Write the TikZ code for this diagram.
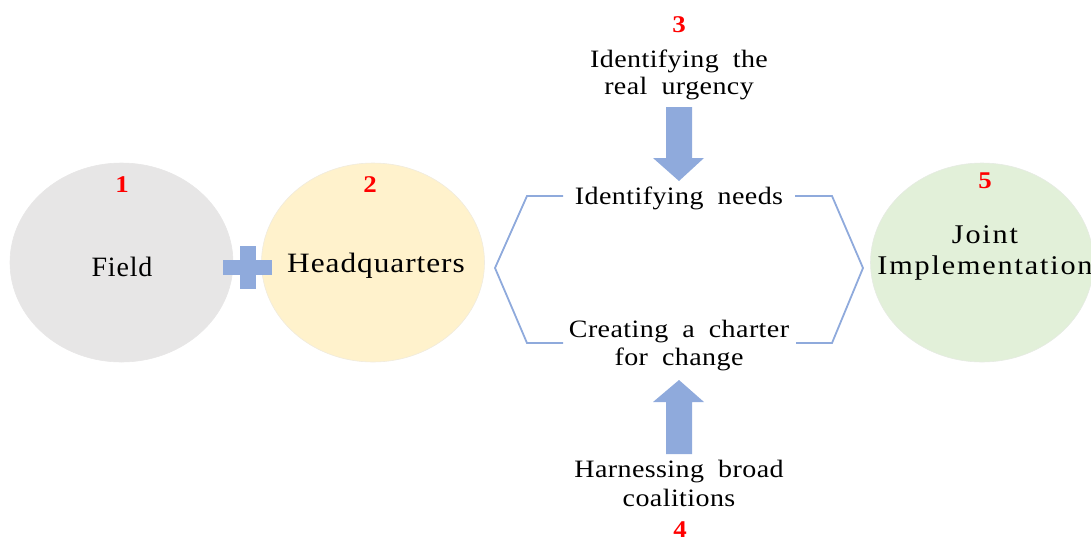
\documentclass[tikz,border=0pt]{standalone}
\usepackage{fontspec}
\usepackage{graphicx}
\setmainfont{Liberation Serif}
\newfontfamily\wide[LetterSpace=1.5,WordSpace=1.9]{Liberation Serif}
\newfontfamily\wideb[LetterSpace=3]{Liberation Serif}
\newfontfamily\widec[LetterSpace=6]{Liberation Serif}
\newcommand\sx[1]{\scalebox{1.12}[1]{#1}}
\usetikzlibrary{shapes.geometric}
\definecolor{grayfill}{HTML}{E7E6E6}
\definecolor{yelfill}{HTML}{FFF2CC}
\definecolor{grnfill}{HTML}{E2F0D9}
\definecolor{blu}{HTML}{8FAADC}
\tikzset{
  circ/.style={ellipse, draw=#1!85!black!40, line width=0.6pt, fill=#1, minimum width=223pt, minimum height=199pt, inner sep=0},
  num/.style={text=red, font=\fontsize{24}{24}\selectfont\bfseries, anchor=base, inner sep=0},
  lbl/.style={font=\wide\fontsize{25}{25}\selectfont, anchor=base, inner sep=0},
  big/.style={font=\wideb\fontsize{28}{28}\selectfont, anchor=base, inner sep=0},
  bigc/.style={font=\widec\fontsize{27}{27}\selectfont, anchor=base, inner sep=0},
  brk/.style={draw=blu, line width=1.8pt},
}
\begin{document}
\begin{tikzpicture}[x=1pt,y=-1pt]
\useasboundingbox (0,0) rectangle (1091,539);
\clip (0,0) rectangle (1091,539);
\node[circ=grayfill] (c1) at (121.5,262.5) {};
\node[circ=yelfill] (c2) at (373,262.5) {};
\node[circ=grnfill] (c5) at (982,262.5) {};
% plus sign
\fill[blu] (223,260) rectangle (272,275);
\fill[blu] (240,246) rectangle (256,289);
\node[num] (n1) at (122,192) {\sx{1}};
\node[num] (n2) at (370,192) {\sx{2}};
\node[num] (n3) at (679,32) {\sx{3}};
\node[num] (n4) at (680,537) {\sx{4}};
\node[num] (n5) at (985,188) {\sx{5}};
\node[big] (t1) at (122,276) {Field};
\node[big] (t2) at (376,272) {\sx{Headquarters}};
\node[bigc] (t5a) at (985,243) {\sx{Joint}};
\node[bigc] (t5b) at (985,274) {\sx{Implementation}};
\node[lbl] (u1) at (679,67) {\sx{Identifying the}};
\node[lbl] (u2) at (679,94) {\sx{real urgency}};
\node[lbl] (need) at (679,204) {\sx{Identifying needs}};
\node[lbl] (ch1) at (679,337) {\sx{Creating a charter}};
\node[lbl] (ch2) at (679,365) {\sx{for change}};
\node[lbl] (h1) at (679,477) {\sx{Harnessing broad}};
\node[lbl] (h2) at (679,506) {\sx{coalitions}};
% brackets
\draw[brk] (563,196) -- (527,196) -- (495,268) -- (527,343) -- (563,343);
\draw[brk] (795,196) -- (832,196) -- (863,268) -- (832,343) -- (796,343);
% arrows
\fill[blu] (666,107) -- (692,107) -- (692,158) -- (704,158) -- (679,181) -- (653,158) -- (666,158) -- cycle;
\fill[blu] (666,454) -- (692,454) -- (692,402) -- (704,402) -- (679,380) -- (653,402) -- (666,402) -- cycle;
\end{tikzpicture}
\end{document}
